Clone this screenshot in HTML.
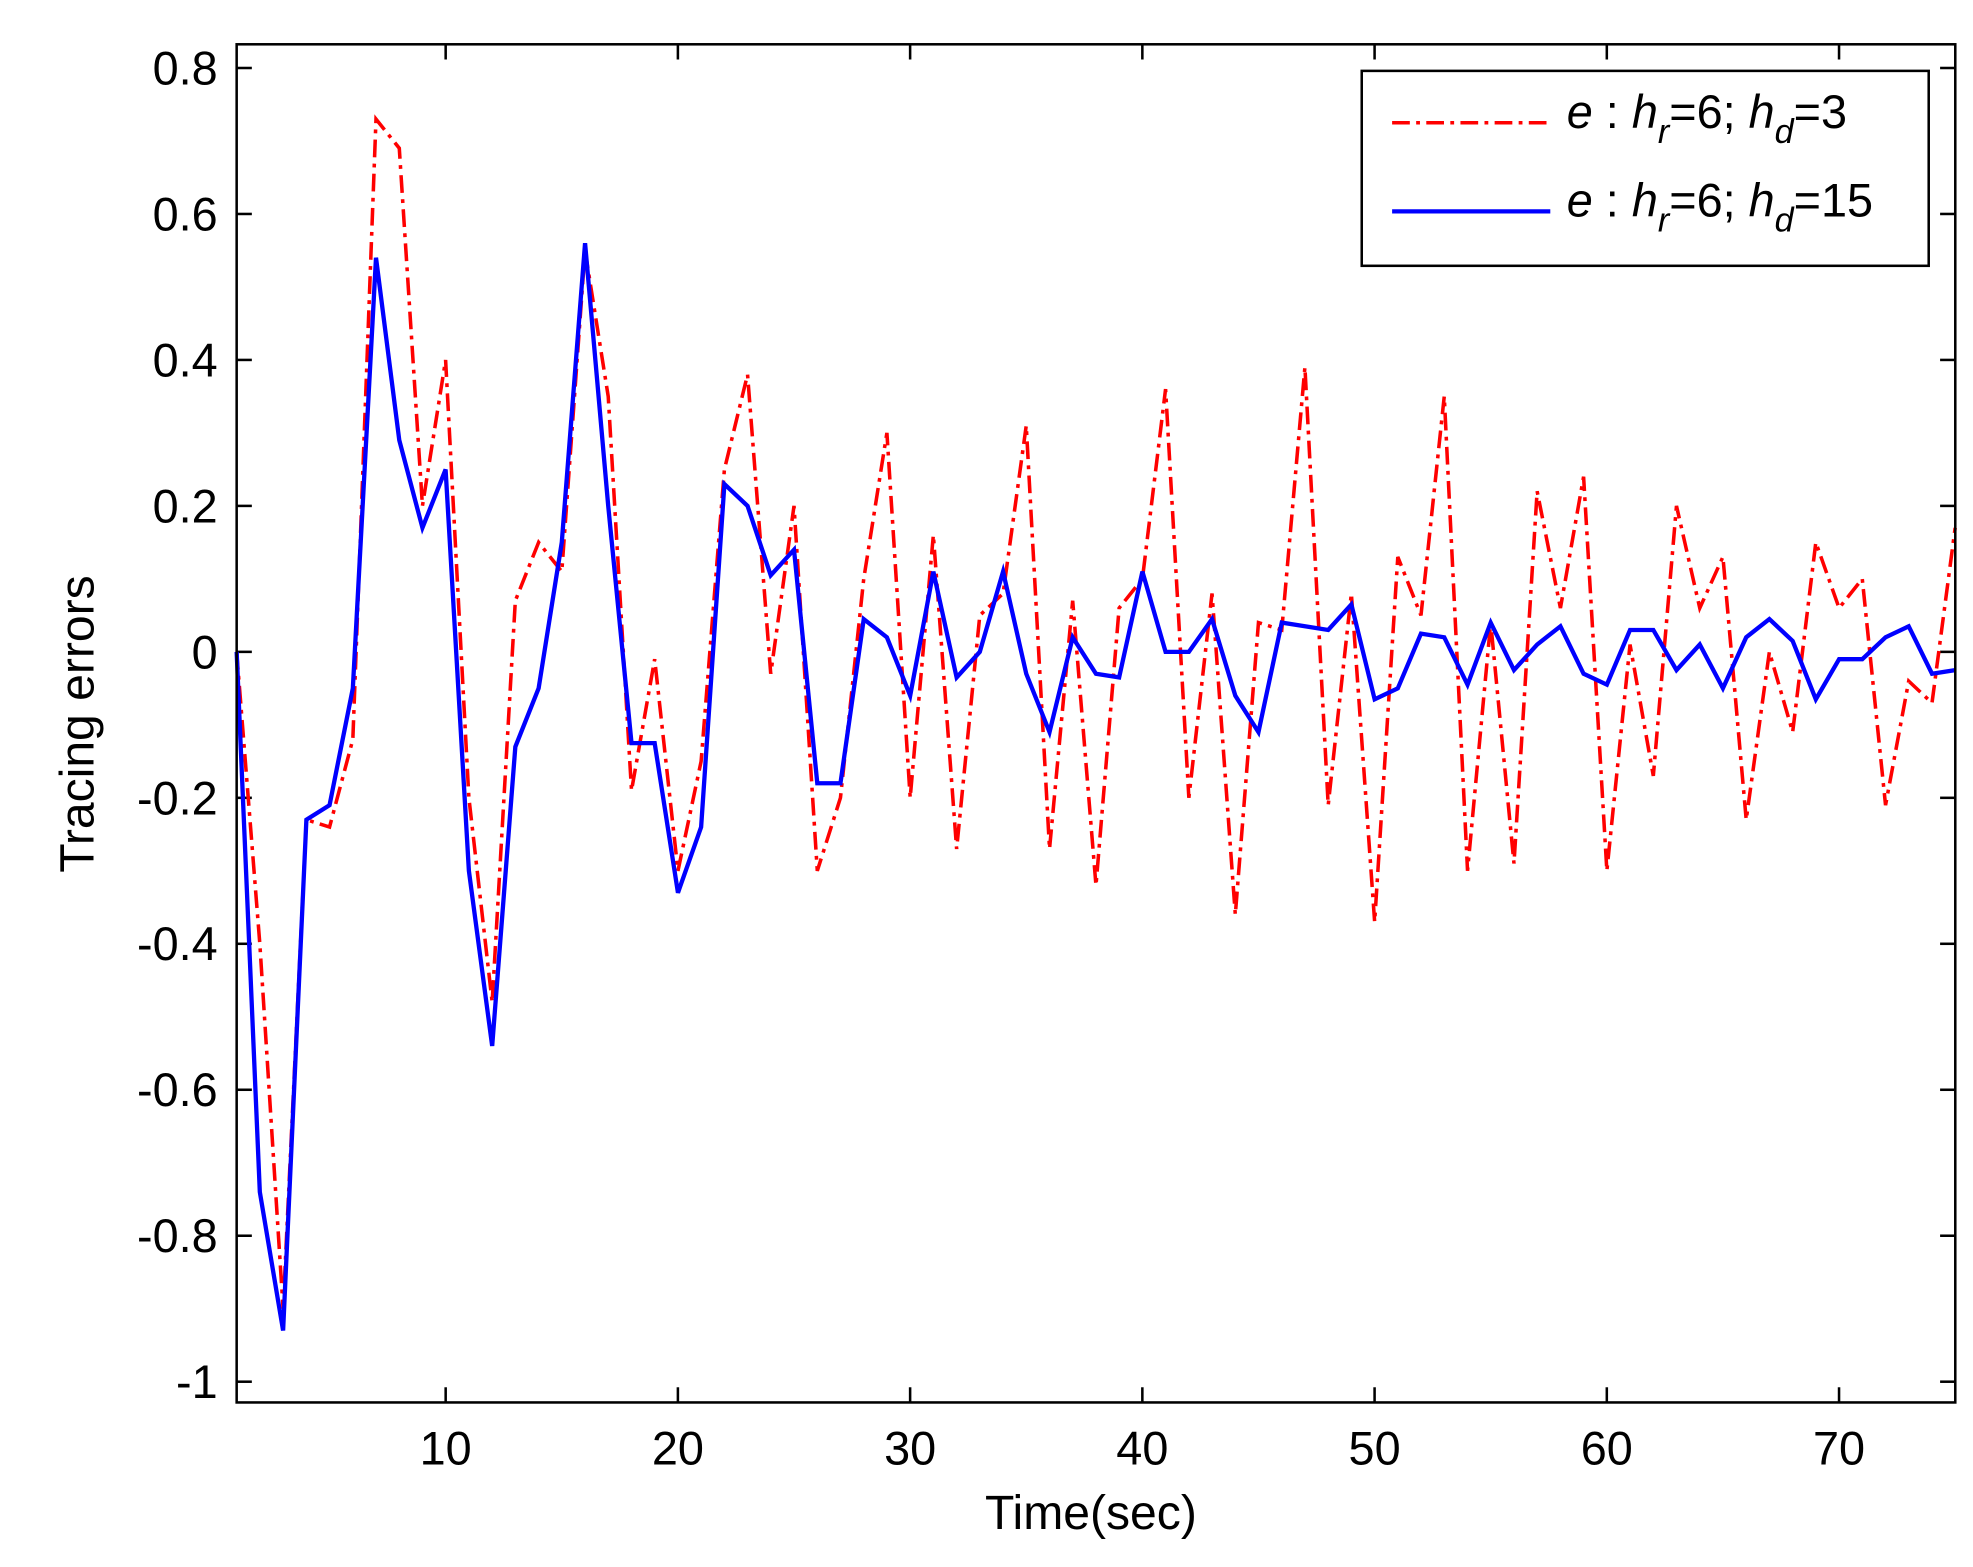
<!DOCTYPE html>
<html><head><meta charset="utf-8"><style>
html,body{margin:0;padding:0;background:#fff;}
svg{display:block;}
text{font-family:"Liberation Sans",Arial,sans-serif;fill:#000;}
</style></head><body>
<svg id="s" width="1973" height="1567" viewBox="0 0 1559 1238" preserveAspectRatio="none" xmlns="http://www.w3.org/2000/svg">
<rect x="0" y="0" width="1559" height="1238" fill="#fff"/>
<g id="ticks"></g>
<polyline id="red" fill="none" stroke="#ff0000" stroke-width="2.8" stroke-dasharray="14,5,3,5"/>
<polyline id="blue" fill="none" stroke="#0000ff" stroke-width="3.4"/>
<rect x="187" y="35" width="1358" height="1073" fill="none" stroke="#000" stroke-width="2"/>
<g id="labels" font-size="37"></g>
<text x="862" y="1208" font-size="38" text-anchor="middle">Time(sec)</text>
<text transform="translate(74,572) rotate(-90)" font-size="38" text-anchor="middle">Tracing errors</text>
<rect x="1076" y="56" width="448" height="154" fill="#fff" stroke="#000" stroke-width="2"/>
<line x1="1100" y1="97" x2="1225" y2="97" stroke="#ff0000" stroke-width="2.8" stroke-dasharray="14,5,3,5"/>
<line x1="1100" y1="167" x2="1225" y2="167" stroke="#0000ff" stroke-width="3.4"/>
<text x="1238" y="101" font-size="37"><tspan font-style="italic">e</tspan> : <tspan font-style="italic">h</tspan><tspan font-style="italic" font-size="27" dy="12">r</tspan><tspan dy="-12">=6; </tspan><tspan font-style="italic">h</tspan><tspan font-style="italic" font-size="27" dy="12">d</tspan><tspan dy="-12">=3</tspan></text>
<text x="1238" y="171" font-size="37"><tspan font-style="italic">e</tspan> : <tspan font-style="italic">h</tspan><tspan font-style="italic" font-size="27" dy="12">r</tspan><tspan dy="-12">=6; </tspan><tspan font-style="italic">h</tspan><tspan font-style="italic" font-size="27" dy="12">d</tspan><tspan dy="-12">=15</tspan></text>
</svg>
<script>
var blue=[0,-0.74,-0.93,-0.23,-0.21,-0.05,0.54,0.29,0.17,0.25,-0.3,-0.54,-0.13,-0.05,0.15,0.56,0.2,-0.125,-0.125,-0.33,-0.24,0.23,0.2,0.105,0.14,-0.18,-0.18,0.045,0.02,-0.06,0.11,-0.035,0,0.11,-0.03,-0.11,0.02,-0.03,-0.035,0.11,0,0,0.045,-0.06,-0.11,0.04,0.035,0.03,0.065,-0.065,-0.05,0.025,0.02,-0.045,0.04,-0.025,0.01,0.035,-0.03,-0.045,0.03,0.03,-0.025,0.01,-0.05,0.02,0.045,0.015,-0.065,-0.01,-0.01,0.02,0.035,-0.03,-0.025];
var red=[0,-0.4,-0.9,-0.23,-0.24,-0.12,0.73,0.69,0.2,0.4,-0.2,-0.48,0.07,0.15,0.11,0.55,0.35,-0.19,-0.01,-0.3,-0.15,0.25,0.38,-0.03,0.2,-0.3,-0.2,0.1,0.3,-0.2,0.16,-0.27,0.05,0.08,0.31,-0.27,0.07,-0.32,0.06,0.1,0.36,-0.2,0.08,-0.36,0.04,0.03,0.39,-0.21,0.08,-0.37,0.13,0.05,0.35,-0.3,0.04,-0.29,0.22,0.06,0.24,-0.3,0.01,-0.17,0.2,0.06,0.13,-0.23,0,-0.11,0.15,0.06,0.1,-0.21,-0.04,-0.07,0.17];
function X(t){return 187+(t-1)*18.35;}function Y(v){return 515-v*576.6;}
function pts(a){return a.map(function(v,i){return X(i+1).toFixed(1)+","+Y(v).toFixed(1);}).join(" ");}
document.getElementById("red").setAttribute("points",pts(red));
document.getElementById("blue").setAttribute("points",pts(blue));
var g=document.getElementById("ticks"),L=document.getElementById("labels"),h="",l="";
for(var i=0;i<=9;i++){var v=0.8-0.2*i,y=Y(v);if(Math.abs(v)<1e-9)v=0;
h+='<line x1="187" y1="'+y+'" x2="199" y2="'+y+'" stroke="#000" stroke-width="2"/><line x1="1533" y1="'+y+'" x2="1545" y2="'+y+'" stroke="#000" stroke-width="2"/>';
var s=(Math.round(v*10)/10).toString();
l+='<text x="172" y="'+(y+13)+'" text-anchor="end">'+s+'</text>';}
for(var t=10;t<=70;t+=10){var x=X(t);
h+='<line x1="'+x+'" y1="1108" x2="'+x+'" y2="1096" stroke="#000" stroke-width="2"/><line x1="'+x+'" y1="35" x2="'+x+'" y2="47" stroke="#000" stroke-width="2"/>';
l+='<text x="'+x+'" y="1157" text-anchor="middle">'+t+'</text>';}
g.innerHTML=h;L.innerHTML=l;
</script>
</body></html>
